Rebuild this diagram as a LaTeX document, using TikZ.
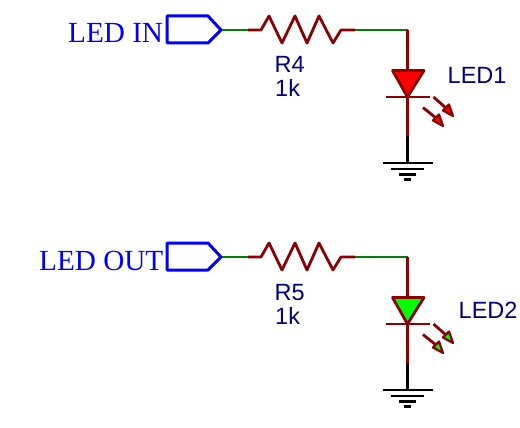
\documentclass[tikz,border=0pt]{standalone}
\usepackage{fontspec}
\setmainfont{Liberation Sans}
\newfontfamily\portfont{Liberation Serif}
\definecolor{wirered}{HTML}{8B0000}
\definecolor{wiregreen}{HTML}{008000}
\definecolor{portblue}{HTML}{0000FF}
\definecolor{labelnavy}{HTML}{000080}
\tikzset{
  base line/.style={line width=2.8pt,line join=miter,line cap=butt},
  greenwire/.style={base line,draw=wiregreen},
  redwire/.style={base line,draw=wirered},
  blackwire/.style={base line,draw=black},
  portshape/.style={line width=3pt,draw=portblue,line join=round},
  porttext/.style={text=portblue,font=\portfont\fontsize{29.2}{29.2}\selectfont,anchor=base west,inner sep=0pt},
  parttext/.style={text=labelnavy,font=\fontsize{23.5}{23.5}\selectfont,anchor=base west,inner sep=0pt},
}
\newcommand{\ledcircuit}[8]{%
% #1 y offset, #2 suffix, #3 port text, #4 port text x, #5 R name, #6 LED name, #7 LED label position, #8 LED colour
\begin{scope}[shift={(0,#1)}]
  \coordinate (tip#2) at (221,30);
  \coordinate (ra#2) at (248,30);
  \coordinate (rb#2) at (355,30);
  \coordinate (corner#2) at (407.5,30);
  \coordinate (an#2) at (407.5,70);
  \coordinate (ka#2) at (407.5,97);
  \coordinate (wj#2) at (407.5,136);
  \coordinate (gnd#2) at (407.5,163);
  \draw[greenwire] (tip#2) -- (ra#2);
  \draw[redwire,line join=round] (ra#2) -- (261,30) -- (269,16) -- (282,43) -- (295,16) -- (307,43) -- (319,16) -- (333,43) -- (341,30) -- (rb#2);
  \draw[greenwire] (rb#2) -- (corner#2);
  \draw[redwire] (corner#2) -- (an#2);
  \draw[redwire] (ka#2) -- (wj#2);
  \draw[blackwire] (wj#2) -- (gnd#2);
  \draw[portshape,fill=white] (167,16) -- (208,16) -- (tip#2) -- (208,43) -- (167,43) -- cycle;
  \node[porttext] (port#2) at (#4,43) {#3};
  \draw[redwire,fill=#8,line join=round] (392.5,70.5) -- (424,70.5) -- (ka#2) -- cycle;
  \draw[redwire] (386,97) -- (430,97);
  \draw[redwire] (433.5,97) -- (446,108);
  \draw[redwire,fill=#8,line width=2.2pt,line join=round] (453,116) -- (443,110.5) -- (449,104.5) -- cycle;
  \draw[redwire] (423,107.5) -- (436,118);
  \draw[redwire,fill=#8,line width=2.2pt,line join=round] (443,126) -- (433,120.5) -- (439,114.5) -- cycle;
  \draw[blackwire] (383,163) -- (433,163);
  \draw[blackwire] (391,169) -- (424,169);
  \draw[blackwire] (399,174.5) -- (416,174.5);
  \draw[blackwire] (404,179.5) -- (411,179.5);
  \node[parttext] (rname#2) at (274.5,73) {#5};
  \node[parttext] (rval#2) at (275,97) {1k};
  \node[parttext] (lname#2) at (#7) {#6};
\end{scope}}
\begin{document}
\begin{tikzpicture}[x=1pt,y=-1pt]
\useasboundingbox (0,0) rectangle (520,428);
\ledcircuit{0}{A}{LED IN}{68}{R4}{LED1}{447.5,83.5}{red}
\ledcircuit{227}{B}{LED OUT}{39}{R5}{LED2}{458.5,91}{green}
\end{tikzpicture}
\end{document}
